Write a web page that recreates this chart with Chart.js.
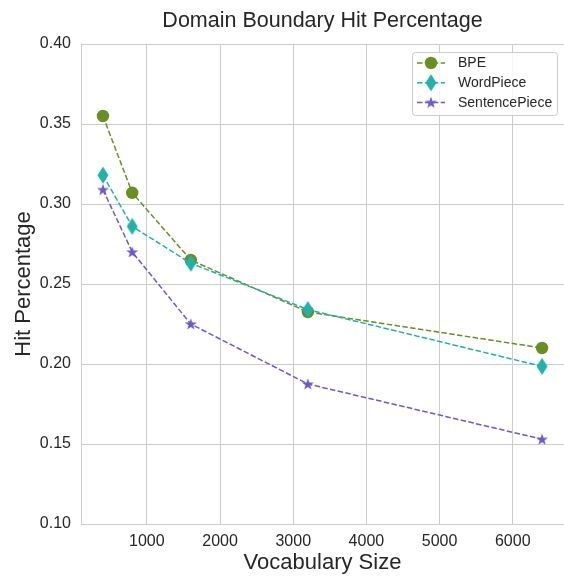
<!DOCTYPE html>
<html>
<head>
<meta charset="utf-8">
<script src="https://cdn.jsdelivr.net/npm/chart.js@4.4.1/dist/chart.umd.min.js"></script>
<style>
  html, body { margin: 0; padding: 0; background: #fff; }
  #wrap { width: 564px; height: 576px; }
</style>
</head>
<body>
<div id="wrap"><canvas id="chart"></canvas></div>
<script>
// values
const vocabSizes = [400, 800, 1600, 3200, 6400];
const bpe = [0.355, 0.307, 0.265, 0.2325, 0.210];
const wordPiece = [0.318, 0.286, 0.263, 0.234, 0.1985];
const sentencePiece = [0.309, 0.270, 0.225, 0.1875, 0.153];
const xTicks = [1000, 2000, 3000, 4000, 5000, 6000];
const yTicks = [0.10, 0.15, 0.20, 0.25, 0.30, 0.35, 0.40];

const FONT = "'Liberation Sans', Arial, sans-serif";
const TEXT = "#262626";
const GRID = "#cccccc";

// thin diamond and star markers (matplotlib 'd' and '*')
function diamond(color) {
  const c = document.createElement("canvas");
  c.width = 12; c.height = 18;
  const g = c.getContext("2d");
  g.fillStyle = color;
  g.beginPath();
  g.moveTo(6, 0.5); g.lineTo(11.5, 9); g.lineTo(6, 17.5); g.lineTo(0.5, 9);
  g.closePath(); g.fill();
  return c;
}
function star(color) {
  const c = document.createElement("canvas");
  c.width = 14; c.height = 14;
  const g = c.getContext("2d");
  g.fillStyle = color;
  g.beginPath();
  for (let i = 0; i < 10; i++) {
    const r = i % 2 ? 2.5 : 6.3;
    const a = -Math.PI / 2 + i * Math.PI / 5;
    g.lineTo(7 + r * Math.cos(a), 7.5 + r * Math.sin(a));
  }
  g.closePath(); g.fill();
  return c;
}

const colBpe = "#6b8e23", colWp = "#20b2aa", colSp = "#6a5acd";
const markWp = diamond(colWp), markSp = star(colSp);

const toPts = (ys) => vocabSizes.map((x, i) => ({ x, y: ys[i] }));

const insideLegend = {
  id: "insideLegend",
  afterDraw(chart) {
    const ctx = chart.ctx;
    const x0 = 412, y0 = 52, w = 145, h = 63;
    ctx.save();
    ctx.beginPath();
    ctx.roundRect(x0 + 0.5, y0 + 0.5, w, h, 3);
    ctx.fillStyle = "rgba(255,255,255,0.8)";
    ctx.fill();
    ctx.strokeStyle = GRID;
    ctx.lineWidth = 1;
    ctx.stroke();
    chart.data.datasets.forEach((ds, i) => {
      const y = 63 + i * 19.7;
      ctx.setLineDash([5.5, 2.4]);
      ctx.strokeStyle = ds.borderColor;
      ctx.lineWidth = 1.5;
      ctx.beginPath();
      ctx.moveTo(417, y); ctx.lineTo(445, y);
      ctx.stroke();
      ctx.setLineDash([]);
      if (ds.pointStyle === "circle") {
        ctx.fillStyle = ds.borderColor;
        ctx.beginPath();
        ctx.arc(431, y, ds.pointRadius, 0, Math.PI * 2);
        ctx.fill();
      } else {
        const m = ds.pointStyle;
        ctx.drawImage(m, 431 - m.width / 2, y - m.height / 2);
      }
      ctx.fillStyle = TEXT;
      ctx.font = "14px " + FONT;
      ctx.textBaseline = "middle";
      ctx.textAlign = "left";
      ctx.fillText(ds.label, 458, y + 0.5);
    });
    ctx.restore();
  },
};

new Chart(document.getElementById("chart"), {
  type: "line",
  data: {
    datasets: [
      { label: "BPE", data: toPts(bpe), borderColor: colBpe, backgroundColor: colBpe, pointStyle: "circle", pointRadius: 6.2, pointBorderWidth: 0, order: 3 },
      { label: "WordPiece", data: toPts(wordPiece), borderColor: colWp, backgroundColor: colWp, pointStyle: markWp, order: 2 },
      { label: "SentencePiece", data: toPts(sentencePiece), borderColor: colSp, backgroundColor: colSp, pointStyle: markSp, order: 1 },
    ],
  },
  options: {
    responsive: true,
    maintainAspectRatio: false,
    animation: false,
    events: [],
    datasets: { line: { borderWidth: 1.5, borderDash: [5.5, 2.4], tension: 0, fill: false, clip: false } },
    layout: { padding: 0, autoPadding: false },
    plugins: {
      legend: { display: false },
      tooltip: { enabled: false },
      title: {
        display: true,
        fullSize: false,
        text: "Domain Boundary Hit Percentage",
        color: TEXT,
        font: { family: FONT, size: 21.5, weight: "normal", lineHeight: 1.2 },
        padding: { top: 8.5, bottom: 9.7 },
      },
    },
    scales: {
      x: {
        type: "linear",
        min: 100,
        max: 6700,
        afterBuildTicks: (s) => { s.ticks = xTicks.map((v) => ({ value: v })); },
        afterFit: (s) => { s.height = 52; s.paddingLeft = 0; s.paddingRight = 0; },
        ticks: { color: TEXT, font: { family: FONT, size: 16 }, padding: 8, maxRotation: 0, callback: (v) => String(v) },
        grid: { color: GRID, lineWidth: 1, drawTicks: false },
        border: { color: GRID, width: 1 },
        title: { display: true, text: "Vocabulary Size", color: TEXT, font: { family: FONT, size: 22, lineHeight: 1.2 }, padding: { top: 0, bottom: 0 } },
      },
      y: {
        min: 0.1,
        max: 0.4,
        afterBuildTicks: (s) => { s.ticks = yTicks.map((v) => ({ value: v })); },
        afterFit: (s) => { s.width = 81; s.paddingTop = 0; s.paddingBottom = 0; },
        ticks: { color: TEXT, font: { family: FONT, size: 16 }, padding: 10, callback: (v) => v.toFixed(2) },
        grid: { color: GRID, lineWidth: 1, drawTicks: false },
        border: { color: GRID, width: 1 },
        title: { display: true, text: "Hit Percentage", color: TEXT, font: { family: FONT, size: 22, lineHeight: 1.2 }, padding: { top: 11, bottom: 0 } },
      },
    },
  },
  plugins: [insideLegend],
});
</script>
</body>
</html>
